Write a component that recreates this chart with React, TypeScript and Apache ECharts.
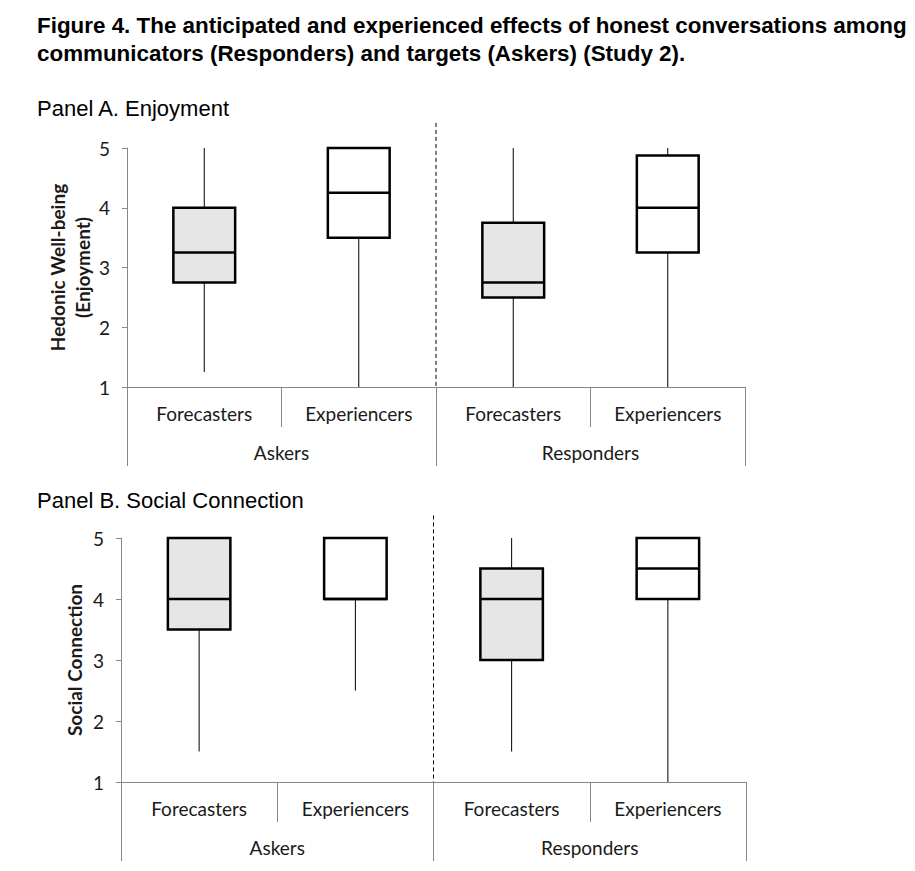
import React, { useEffect, useRef } from "react";
import * as echarts from "echarts";

const groupCategories = ["Askers", "Responders"];
const roleCategories = ["Forecasters", "Experiencers", "Forecasters", "Experiencers"];
const yTicks = [1, 2, 3, 4, 5];

// [min, Q1, median, Q3, max] per box
const enjoymentBoxes = [
  [1.25, 2.75, 3.25, 4.0, 5],
  [1, 3.5, 4.25, 5, 5],
  [1, 2.5, 2.75, 3.75, 5],
  [1, 3.25, 4.0, 4.875, 5],
];
const connectionBoxes = [
  [1.5, 3.5, 4, 5, 5],
  [2.5, 4, 4, 5, 5],
  [1.5, 3, 4, 4.5, 5],
  [1, 4, 4.5, 5, 5],
];
const boxFills = ["#e6e6e6", "#ffffff", "#e6e6e6", "#ffffff"];

const AXIS_GREY = "#878787";
const TEXT = "#1a1a1a";
const FONT = "Lato, 'Open Sans', sans-serif";
const ARIAL = "'Liberation Sans', Arial, sans-serif";

function makeRenderItem(sepTop: number) {
  return (params: any, api: any) => {
    const i = api.value(0);
    const pt = (v: number) => api.coord([i, v]);
    const [cx, yMin] = pt(api.value(1));
    const yQ1 = pt(api.value(2))[1];
    const yMed = pt(api.value(3))[1];
    const yQ3 = pt(api.value(4))[1];
    const yMax = pt(api.value(5))[1];
    const band = api.size([1, 0])[0];
    const w = band * 0.4;
    const children: any[] = [];
    if (yMin !== yQ1)
      children.push({ type: "line", shape: { x1: cx, y1: yQ1, x2: cx, y2: yMin }, style: { stroke: "#000", lineWidth: 1 } });
    if (yMax !== yQ3)
      children.push({ type: "line", shape: { x1: cx, y1: yQ3, x2: cx, y2: yMax }, style: { stroke: "#000", lineWidth: 1 } });
    children.push({
      type: "rect",
      shape: { x: cx - w / 2, y: yQ3, width: w, height: yQ1 - yQ3 },
      style: { fill: boxFills[params.dataIndex], stroke: "#000", lineWidth: 2.5 },
    });
    children.push({ type: "line", shape: { x1: cx - w / 2, y1: yMed, x2: cx + w / 2, y2: yMed }, style: { stroke: "#000", lineWidth: 2.5 } });
    if (params.dataIndex === 1) {
      const sx = cx + band / 2;
      const yTop = pt(sepTop)[1];
      const yBot = pt(1)[1];
      children.push({ type: "line", shape: { x1: sx, y1: yTop, x2: sx, y2: yBot }, style: { stroke: "#000", lineWidth: 1, lineDash: [4, 3] } });
    }
    return { type: "group", children };
  };
}

export default function App() {
  const ref = useRef<HTMLDivElement>(null);
  useEffect(() => {
    if (!ref.current) return;
    const chart = echarts.init(ref.current, undefined, { renderer: "svg" });
    const innerAxis = (grid: number, margin: number) => ({
      type: "category",
      gridIndex: grid,
      data: roleCategories,
      position: "bottom",
      axisLine: { lineStyle: { color: AXIS_GREY, width: 1 } },
      axisTick: { show: true, interval: 0, length: 40, lineStyle: { color: AXIS_GREY } },
      axisLabel: { interval: 0, margin, fontSize: 19, color: TEXT, fontFamily: FONT },
    });
    const outerAxis = (grid: number, margin: number) => ({
      type: "category",
      gridIndex: grid,
      data: groupCategories,
      position: "bottom",
      axisLine: { lineStyle: { color: AXIS_GREY, width: 1 } },
      axisTick: { show: true, interval: 0, length: 79, lineStyle: { color: AXIS_GREY } },
      axisLabel: { interval: 0, margin, fontSize: 19, color: TEXT, fontFamily: FONT },
    });
    const yAxis = (grid: number, name: string, nameGap: number) => ({
      type: "value",
      gridIndex: grid,
      min: yTicks[0],
      max: yTicks[yTicks.length - 1],
      interval: 1,
      name,
      nameLocation: "middle",
      nameGap,
      nameMoveOverlap: false,
      nameTextStyle: { fontSize: 19, fontWeight: "bold", color: TEXT, fontFamily: FONT, lineHeight: 25 },
      axisLine: { show: true, lineStyle: { color: AXIS_GREY, width: 1 } },
      axisTick: { show: true, length: 5, lineStyle: { color: AXIS_GREY } },
      axisLabel: { margin: 17, fontSize: 19, color: TEXT, fontFamily: FONT },
      splitLine: { show: false },
    });
    const toRows = (boxes: number[][]) => boxes.map((b, i) => [i, ...b]);
    chart.setOption({
      animation: false,
      backgroundColor: "#fff",
      title: [
        {
          text: "Figure 4. The anticipated and experienced effects of honest conversations among\ncommunicators (Responders) and targets (Askers) (Study 2).",
          left: 32,
          top: 6,
          textStyle: { fontSize: 22.4, fontWeight: "bold", color: "#000", fontFamily: ARIAL, lineHeight: 28 },
        },
        {
          text: "Panel A. Enjoyment",
          left: 32,
          top: 92,
          textStyle: { fontSize: 22, fontWeight: "normal", color: "#000", fontFamily: ARIAL },
        },
        {
          text: "Panel B. Social Connection",
          left: 32,
          top: 484,
          textStyle: { fontSize: 22, fontWeight: "normal", color: "#000", fontFamily: ARIAL },
        },
      ],
      grid: [
        { left: 127, width: 618, top: 148, height: 239 },
        { left: 121, width: 625, top: 538, height: 244 },
      ],
      xAxis: [innerAxis(0, 17), outerAxis(0, 56), innerAxis(1, 17), outerAxis(1, 56)],
      yAxis: [yAxis(0, "Hedonic Well-being\n(Enjoyment)", 32), yAxis(1, "Social Connection", 34)],
      series: [
        {
          type: "custom",
          xAxisIndex: 0,
          yAxisIndex: 0,
          data: toRows(enjoymentBoxes),
          encode: { x: 0, y: [1, 2, 3, 4, 5] },
          renderItem: makeRenderItem(5.42),
        },
        {
          type: "custom",
          xAxisIndex: 2,
          yAxisIndex: 1,
          data: toRows(connectionBoxes),
          encode: { x: 0, y: [1, 2, 3, 4, 5] },
          renderItem: makeRenderItem(5.37),
        },
      ],
    });
    return () => chart.dispose();
  }, []);
  return <div ref={ref} style={{ position: "absolute", left: 0, top: 0, width: 915, height: 871 }} />;
}
